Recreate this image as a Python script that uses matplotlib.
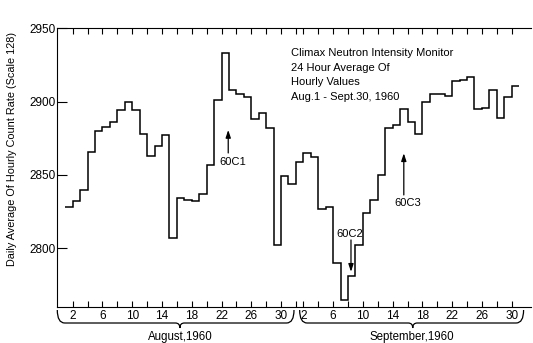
import numpy as np
import matplotlib
matplotlib.use("Agg")
import matplotlib.pyplot as plt
from matplotlib.path import Path
from matplotlib.patches import PathPatch
from matplotlib.transforms import blended_transform_factory

plt.rcParams['font.family'] = ['Liberation Sans', 'DejaVu Sans']

# Daily averages of hourly neutron counts, Climax (scale 128)
aug_values = [2828, 2832, 2840, 2866, 2880, 2883, 2886, 2894, 2900, 2894,
              2878, 2863, 2870, 2877, 2807, 2834, 2833, 2832, 2837, 2857,
              2901, 2933, 2908, 2905, 2903, 2888, 2892, 2882, 2802, 2849,
              2844]
sep_values = [2859, 2865, 2862, 2827, 2828, 2790, 2765, 2781, 2802, 2824,
              2833, 2850, 2882, 2884, 2895, 2886, 2878, 2900, 2905, 2905,
              2904, 2914, 2915, 2917, 2895, 2896, 2908, 2889, 2903, 2911]

y_ticks = [2800, 2850, 2900, 2950]
aug_labels = ["2", "6", "10", "14", "18", "22", "26", "30"]
sep_labels = ["2", "6", "10", "14", "18", "22", "26", "30"]

title_lines = ["Climax Neutron Intensity Monitor", "24 Hour Average Of",
               "Hourly Values", "Aug.1 - Sept.30, 1960"]

values = np.array(aug_values + sep_values, dtype=float)
n_aug = len(aug_values)
edges = np.arange(1, len(values) + 2)

fig = plt.figure(figsize=(5.33, 3.43), dpi=100)
ax = fig.add_axes([0.1075, 0.1058, 0.8888, 0.8117])

ax.stairs(values, edges, baseline=None, color='black', linewidth=1.1)

ax.set_xlim(-0.075, 63.6)
ax.set_ylim(2760.2, 2950)

# x positions: Aug d -> d, Sept d -> 31 + d
aug_major = [int(s) for s in aug_labels]
sep_major = [n_aug + int(s) for s in sep_labels]
major = aug_major + sep_major
minor = [d for d in range(2, 31, 2) if d not in aug_major] + [n_aug + 1] + \
        [n_aug + d for d in range(2, 31, 2) if n_aug + d not in sep_major]
ax.set_xticks(major)
ax.set_xticklabels(aug_labels + sep_labels)
ax.set_xticks(minor, minor=True)
ax.tick_params(axis='x', which='both', direction='in', top=True, bottom=True,
               length=4.5, width=0.8, pad=2.5, labelsize=8.5)

ax.set_yticks(y_ticks)
ax.tick_params(axis='y', which='both', direction='in', left=True, right=False,
               length=7.5, width=0.8, pad=1, labelsize=8.5)

ax.spines['right'].set_visible(False)
for s in ('left', 'top', 'bottom'):
    ax.spines[s].set_linewidth(0.8)

fig.text(12 / 533, 0.566, "Daily Average Of Hourly Count Rate (Scale 128)",
         rotation=90, ha='center', va='center', fontsize=7.8)

# descriptive block
ty = [2933, 2923, 2913.6, 2903]
for line, yv in zip(title_lines, ty):
    ax.text(31.3, yv, line, ha='left', va='center', fontsize=8)

# event arrows
arrow = dict(arrowstyle='-|>,head_length=0.45,head_width=0.15', color='black',
             linewidth=0.9, shrinkA=0, shrinkB=0)
ax.annotate("", xy=(22.9, 2880.7), xytext=(22.9, 2865), arrowprops=arrow)
ax.text(23.5, 2858.9, "60C1", ha='center', va='center', fontsize=8)
ax.annotate("", xy=(39.4, 2784), xytext=(39.4, 2805.7), arrowprops=arrow)
ax.text(39.2, 2810, "60C2", ha='center', va='center', fontsize=8)
ax.annotate("", xy=(46.5, 2864.8), xytext=(46.5, 2836.4), arrowprops=arrow)
ax.text(47.0, 2830.7, "60C3", ha='center', va='center', fontsize=8)

# month braces below the axis
trans = blended_transform_factory(ax.transData, fig.transFigure)
y_top, y_mid, y_tip = 0.0962, 0.0583, 0.0437


def brace(x0, x1, xc):
    r = 1.0
    c = 0.6
    verts = [(x0, y_top), (x0, y_mid), (x0 + r, y_mid),
             (xc - c, y_mid), (xc, y_mid), (xc, y_tip),
             (xc, y_mid), (xc + c, y_mid),
             (x1 - r, y_mid), (x1, y_mid), (x1, y_top)]
    codes = [Path.MOVETO, Path.CURVE3, Path.CURVE3,
             Path.LINETO, Path.CURVE3, Path.CURVE3,
             Path.CURVE3, Path.CURVE3,
             Path.LINETO, Path.CURVE3, Path.CURVE3]
    patch = PathPatch(Path(verts, codes), transform=trans, fill=False,
                      edgecolor='black', linewidth=0.9, clip_on=False)
    fig.add_artist(patch)


brace(-0.075, 31.74, 16.4)
brace(32.5, 62.6, 47.7)
fig.text(16.4, 0.0175, "August,1960", transform=trans, ha='center',
         va='center', fontsize=8.3)
fig.text(47.6, 0.0175, "September,1960", transform=trans, ha='center',
         va='center', fontsize=8.3)

fig.savefig("out.png", dpi=100)
